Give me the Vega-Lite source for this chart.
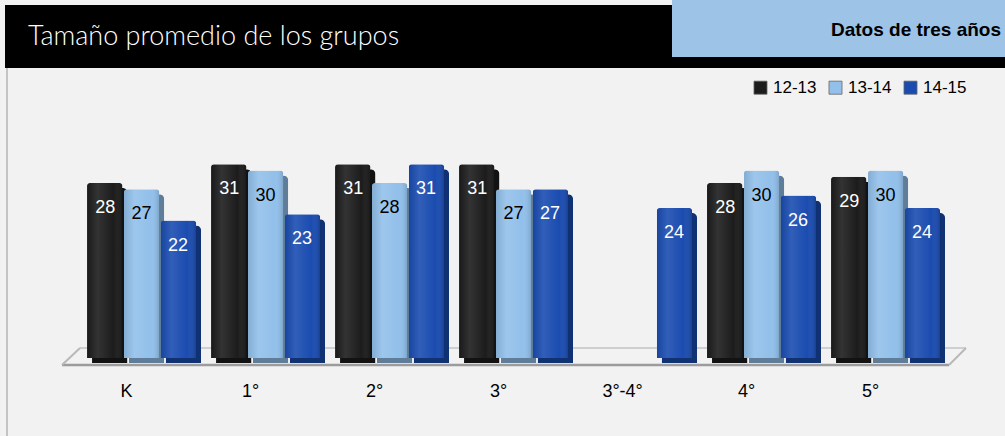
{
  "$schema": "https://vega.github.io/schema/vega-lite/v6.json",
  "background": "#f2f2f2",
  "padding": 0,
  "autosize": "none",
  "width": 1005,
  "height": 436,
  "config": {
    "view": {"stroke": null},
    "font": "Liberation Sans"
  },
  "datasets": {
    "sizes": [
      {"grade": "K", "year": "12-13", "size": 28},
      {"grade": "K", "year": "13-14", "size": 27},
      {"grade": "K", "year": "14-15", "size": 22},
      {"grade": "1°", "year": "12-13", "size": 31},
      {"grade": "1°", "year": "13-14", "size": 30},
      {"grade": "1°", "year": "14-15", "size": 23},
      {"grade": "2°", "year": "12-13", "size": 31},
      {"grade": "2°", "year": "13-14", "size": 28},
      {"grade": "2°", "year": "14-15", "size": 31},
      {"grade": "3°", "year": "12-13", "size": 31},
      {"grade": "3°", "year": "13-14", "size": 27},
      {"grade": "3°", "year": "14-15", "size": 27},
      {"grade": "3°-4°", "year": "14-15", "size": 24},
      {"grade": "4°", "year": "12-13", "size": 28},
      {"grade": "4°", "year": "13-14", "size": 30},
      {"grade": "4°", "year": "14-15", "size": 26},
      {"grade": "5°", "year": "12-13", "size": 29},
      {"grade": "5°", "year": "13-14", "size": 30},
      {"grade": "5°", "year": "14-15", "size": 24}
    ]
  },
  "data": {"name": "sizes"},
  "encoding": {
    "x": {"field": "grade", "type": "nominal", "sort": ["K", "1°", "2°", "3°", "3°-4°", "4°", "5°"],
      "scale": {"paddingInner": 0.12, "paddingOuter": 0.6125, "align": 0.573},
      "axis": {"title": null, "domain": false, "ticks": false, "labelAngle": 0, "labelFontSize": 18, "labelColor": "#000000", "labelPadding": 24, "labelBaseline": "top", "labelOffset": -15, "offset": -78}}
  },
  "layer": [
    {
      "transform": [{"filter": "datum.grade === 'K' && datum.year === '12-13'"}],
      "mark": {"type": "rect", "color": "#000000"},
      "encoding": {"x": {"value": 5}, "x2": {"value": 1005}, "y": {"value": 5}, "y2": {"value": 68}}
    },
    {
      "transform": [{"filter": "datum.grade === 'K' && datum.year === '12-13'"}],
      "mark": {"type": "rect", "color": "#9dc3e6"},
      "encoding": {"x": {"value": 672}, "x2": {"value": 1005}, "y": {"value": 0}, "y2": {"value": 57}}
    },
    {
      "transform": [{"filter": "datum.grade === 'K' && datum.year === '12-13'"}],
      "mark": {"type": "rule", "color": "#b5b5b5", "strokeWidth": 1.5},
      "encoding": {"x": {"value": 7}, "y": {"value": 68}, "y2": {"value": 436}}
    },
    {
      "transform": [{"filter": "datum.grade === 'K' && datum.year === '12-13'"}],
      "mark": {"type": "rule", "color": "#cfcfcf", "strokeWidth": 2},
      "encoding": {"x": {"value": 80}, "x2": {"value": 966}, "y": {"value": 348}}
    },
    {
      "transform": [{"filter": "datum.grade === 'K' && datum.year === '12-13'"}],
      "mark": {"type": "rule", "color": "#9c9c9c", "strokeWidth": 2.5},
      "encoding": {"x": {"value": 62}, "x2": {"value": 949}, "y": {"value": 365}}
    },
    {
      "transform": [{"filter": "datum.grade === 'K' && datum.year === '12-13'"}],
      "mark": {"type": "rule", "color": "#b8b8b8", "strokeWidth": 2},
      "encoding": {"x": {"value": 62}, "x2": {"value": 80}, "y": {"value": 365}, "y2": {"value": 348}}
    },
    {
      "transform": [{"filter": "datum.grade === 'K' && datum.year === '12-13'"}],
      "mark": {"type": "rule", "color": "#b8b8b8", "strokeWidth": 2},
      "encoding": {"x": {"value": 949}, "x2": {"value": 966}, "y": {"value": 365}, "y2": {"value": 348}}
    },
    {
      "mark": {"type": "bar", "cornerRadiusTopLeft": 5, "cornerRadiusTopRight": 5},
      "encoding": {
        "xOffset": {"field": "year", "type": "nominal", "sort": ["12-13", "13-14", "14-15"], "scale": {"range": [5, 114], "paddingInner": 0.04, "paddingOuter": 0}},
        "y": {"field": "size", "type": "quantitative", "scale": {"domain": [-11.68, 58.08]}, "axis": null},
        "color": {"field": "year", "type": "nominal", "sort": ["12-13", "13-14", "14-15"], "scale": {"range": ["#1c1c1c", "#92c0ea", "#1a4cb0"]},
          "legend": {"title": null, "orient": "none", "legendX": 752, "legendY": 79, "direction": "horizontal", "symbolType": "square", "symbolSize": 170, "symbolStrokeColor": "#666666", "symbolStrokeWidth": 0.8, "labelFontSize": 17, "labelColor": "#000000", "columnPadding": 10}}
      }
    },
    {
      "mark": {"type": "bar", "cornerRadiusTopLeft": 5, "cornerRadiusTopRight": 5, "color": "#000000", "opacity": 0.35},
      "encoding": {
        "xOffset": {"field": "year", "type": "nominal", "sort": ["12-13", "13-14", "14-15"], "scale": {"range": [5, 114], "paddingInner": 0.04, "paddingOuter": 0}},
        "y": {"field": "size", "type": "quantitative", "scale": {"domain": [-11.68, 58.08]}, "axis": null}
      }
    },
    {
      "mark": {"type": "bar", "cornerRadiusTopLeft": 3, "cornerRadiusTopRight": 3},
      "encoding": {
        "xOffset": {"field": "year", "type": "nominal", "sort": ["12-13", "13-14", "14-15"], "scale": {"paddingInner": 0.04, "paddingOuter": 0}},
        "y": {"field": "size", "type": "quantitative", "scale": {"domain": [-12.48, 57.28]}, "axis": null},
        "color": {"field": "year", "type": "nominal", "sort": ["12-13", "13-14", "14-15"]}
      }
    },
    {
      "mark": {"type": "bar", "cornerRadiusTopLeft": 3, "cornerRadiusTopRight": 3,
        "fill": {"gradient": "linear", "x1": 0, "y1": 0, "x2": 1, "y2": 0,
          "stops": [{"offset": 0, "color": "rgba(0,0,0,0.10)"}, {"offset": 0.3, "color": "rgba(255,255,255,0.10)"}, {"offset": 0.75, "color": "rgba(255,255,255,0.0)"}, {"offset": 1, "color": "rgba(0,0,0,0.15)"}]}},
      "encoding": {
        "xOffset": {"field": "year", "type": "nominal", "sort": ["12-13", "13-14", "14-15"], "scale": {"paddingInner": 0.04, "paddingOuter": 0}},
        "y": {"field": "size", "type": "quantitative", "scale": {"domain": [-12.48, 57.28]}, "axis": null}
      }
    },
    {
      "mark": {"type": "text", "fontSize": 18, "baseline": "middle", "align": "center", "dy": 25},
      "encoding": {
        "xOffset": {"field": "year", "type": "nominal", "sort": ["12-13", "13-14", "14-15"], "scale": {"type": "point", "padding": 0.5}},
        "y": {"field": "size", "type": "quantitative", "scale": {"domain": [-12.48, 57.28]}, "axis": null},
        "text": {"field": "size", "type": "quantitative"},
        "color": {"condition": {"test": "datum.year === '13-14'", "value": "#000000"}, "value": "#ffffff"}
      }
    },
    {
      "transform": [{"filter": "datum.grade === 'K' && datum.year === '12-13'"}],
      "mark": {"type": "text", "font": "Lato", "fontWeight": 300, "fontSize": 27, "color": "#ffffff", "align": "left", "baseline": "middle"},
      "encoding": {"text": {"value": "Tamaño promedio de los grupos"}, "x": {"value": 28}, "y": {"value": 37}}
    },
    {
      "transform": [{"filter": "datum.grade === 'K' && datum.year === '12-13'"}],
      "mark": {"type": "text", "fontWeight": "bold", "fontSize": 19, "align": "right", "baseline": "middle", "color": "#000000"},
      "encoding": {"text": {"value": "Datos de tres años"}, "x": {"value": 1001}, "y": {"value": 30}}
    }
  ],
  "resolve": {"scale": {"xOffset": "independent", "y": "independent"}}
}
